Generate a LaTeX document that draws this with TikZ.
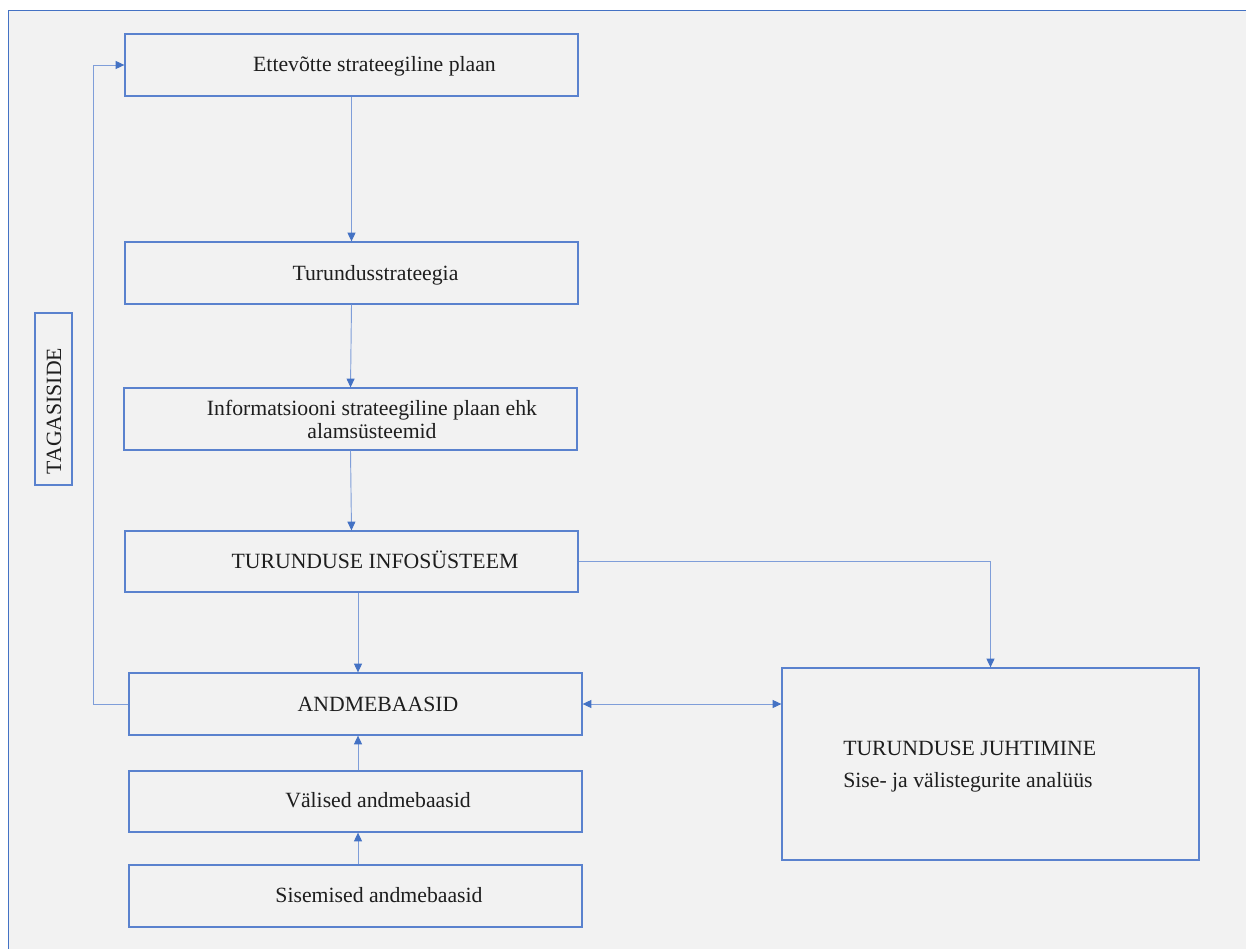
\documentclass[tikz,border=0pt]{standalone}
\usepackage{fontspec}
\setmainfont{Liberation Serif}
\usetikzlibrary{arrows.meta}
\definecolor{bblue}{HTML}{4472C4}
\definecolor{boxblue}{HTML}{5A82CE}
\definecolor{lblue}{HTML}{7F9ED9}
\definecolor{bgrey}{HTML}{F2F2F2}
\definecolor{ink}{HTML}{1E1E1E}
\begin{document}
\begin{tikzpicture}[x=0.75pt,y=-0.75pt,
  bx/.style 2 args={draw=boxblue, line width=1pt, inner sep=0pt,
    minimum width=#1*0.75pt, minimum height=#2*0.75pt},
  txt/.style={font=\fontsize{16.3}{17.25}\selectfont, inner sep=0pt, text=ink},
  arr/.style={draw=lblue, line width=0.7pt, -{Triangle[length=6.5pt,width=6pt,color=bblue]}},
  darr/.style={draw=lblue, line width=0.7pt, {Triangle[length=6.5pt,width=6pt,color=bblue]}-{Triangle[length=6.5pt,width=6pt,color=bblue]}}
]
\useasboundingbox (0,0) rectangle (1246,949);
\fill[white] (0,0) rectangle (1246,949);
\fill[bgrey] (8.5,10.5) rectangle (1246,949);
\draw[bblue, line width=1.2pt] (8.5,949) -- (8.5,10.5) -- (1246,10.5);

% boxes
\node[bx={453}{62}] (b1) at (351.5,65) {};
\node[bx={453}{62}] (b2) at (351.5,273) {};
\node[bx={453}{62}] (b3) at (350.5,419) {};
\node[bx={453}{61}] (b4) at (351.5,561.5) {};
\node[bx={453}{62}] (b5) at (355.5,704) {};
\node[bx={453}{61}] (b6) at (355.5,801.5) {};
\node[bx={453}{62}] (b7) at (355.5,896) {};
\node[bx={417}{192}] (b8) at (990.5,764) {};
\node[bx={37}{172}, line width=0.8pt] (tag) at (53.5,399) {};

% texts
\node[txt, anchor=base] (t1) at (374.5,72) {Ettevõtte strateegiline plaan};
\node[txt, anchor=base] (t2) at (375.5,280) {Turundusstrateegia};
\node[txt, align=center] (t3) at (372,419.5) {Informatsiooni strateegiline plaan ehk\\alamsüsteemid};
\node[txt, anchor=base] (t4) at (375,568) {TURUNDUSE INFOSÜSTEEM};
\node[txt, anchor=base] (t5) at (378,711) {ANDMEBAASID};
\node[txt, anchor=base] (t6) at (378,807) {Välised andmebaasid};
\node[txt, anchor=base] (t7) at (379,902) {Sisemised andmebaasid};
\node[txt, align=left, anchor=west, font=\fontsize{16.3}{24}\selectfont] (t8) at (843,766.5)
  {TURUNDUSE JUHTIMINE\\Sise- ja välistegurite analüüs};
\node[txt, rotate=90] (t9) at (54,411) {TAGASISIDE};

% connectors
\draw[arr] (b1.south) -- (b2.north);
\draw[arr] (b2.south) -- (b3.north);
\draw[arr] (b3.south) -- (b4.north);
\draw[arr] ([xshift=1.875pt]b5.north |- b4.south) -- ([xshift=1.875pt]b5.north);
\draw[arr] ([xshift=1.875pt]b6.north) -- ([xshift=1.875pt]b5.south);
\draw[arr] ([xshift=1.875pt]b7.north) -- ([xshift=1.875pt]b6.south);
\draw[arr] (b4.east) -| (b8.north);
\draw[darr] (b5.east) -- (b5.east -| b8.west);
\draw[arr] (b5.west) -- ++(-35,0) |- (b1.west);
\end{tikzpicture}
\end{document}
